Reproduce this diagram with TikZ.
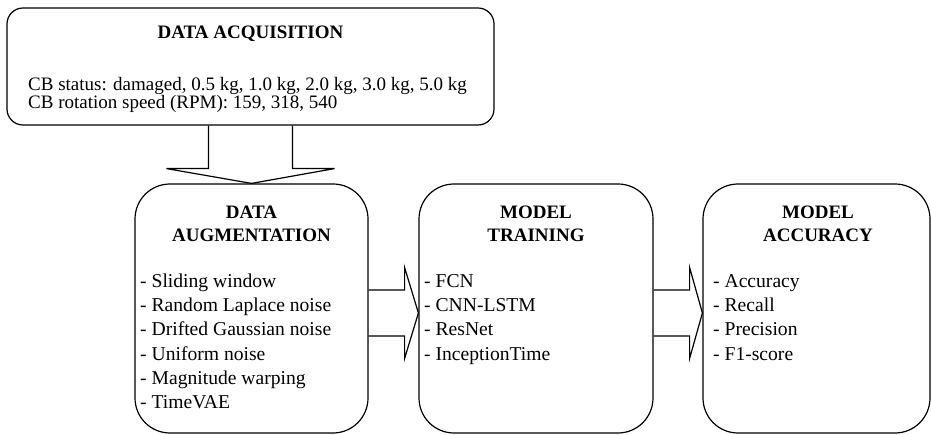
\documentclass[tikz,border=0pt]{standalone}
\usepackage{fontspec}
\setmainfont{Liberation Serif}
\usetikzlibrary{calc}
\begin{document}
\begin{tikzpicture}[x=1pt,y=-1pt,
  box/.style={draw,line width=1.2pt,rounded corners=#1,inner sep=0pt},
  conn/.style={draw,line width=1.2pt,line join=miter},
  ttl/.style={anchor=base,inner sep=0pt,font=\fontsize{19}{23}\selectfont\bfseries},
  txt/.style={anchor=base west,inner sep=0pt,font=\fontsize{19}{23}\selectfont},
  item/.style={anchor=base west,inner sep=0pt,font=\fontsize{19.6}{23}\selectfont}]
\useasboundingbox (0,0) rectangle (931,435);
% boxes
\node[box=16pt,minimum width=487pt,minimum height=117pt] (acq) at (250.5,66.5) {};
\node[box=35pt,minimum width=233pt,minimum height=249pt] (aug) at (251.5,308.5) {};
\node[box=35pt,minimum width=234pt,minimum height=249pt] (tr) at (536,308.5) {};
\node[box=35pt,minimum width=227pt,minimum height=249pt] (acc) at (816.5,308.5) {};
% texts
\node[ttl] (acqT) at (250.5,39) {DATA ACQUISITION};
\node[txt] (acqL1) at (28,91) {CB status: damaged, 0.5 kg, 1.0 kg, 2.0 kg, 3.0 kg, 5.0 kg};
\node[txt] (acqL2) at (28,109) {CB rotation speed (RPM): 159, 318, 540};
\node[ttl] (augT1) at (251.5,219) {DATA};
\node[ttl] (augT2) at (251.5,242) {AUGMENTATION};
\foreach \t [count=\i from 0] in {Sliding window,Random Laplace noise,Drifted Gaussian noise,Uniform noise,Magnitude warping,TimeVAE}
  \node[item] (augL\i) at (140,288+24*\i) {- \t};
\node[ttl] (trT1) at (536,219) {MODEL};
\node[ttl] (trT2) at (536,242) {TRAINING};
\foreach \t [count=\i from 0] in {FCN,CNN-LSTM,ResNet,InceptionTime}
  \node[item] (trL\i) at (424,288+24*\i) {- \t};
\node[ttl] (accT1) at (818,219) {MODEL};
\node[ttl] (accT2) at (818,242) {ACCURACY};
\foreach \t [count=\i from 0] in {Accuracy,Recall,Precision,F1-score}
  \node[item] (accL\i) at (713,288+24*\i) {- \t};
% block arrows
\draw[conn] ($(acq.south)+(-42,0)$) -- ++(0,43) -- ++(-42,0) -- (aug.north)
  -- ($(acq.south)+(84,43)$) -- ++(-42,0) -- ($(acq.south)+(42,0)$);
\draw[conn] ($(aug.east)+(0,-18.5)$) -- ++(36,0) -- ++(0,-22.5) -- ($(tr.west)+(0,4.5)$)
  -- ($(aug.east)+(36,50)$) -- ++(0,-22.5) -- ($(aug.east)+(0,27.5)$);
\draw[conn] ($(tr.east)+(0,-18.5)$) -- ++(36,0) -- ++(0,-22.5) -- ($(acc.west)+(0,4.5)$)
  -- ($(tr.east)+(36,50)$) -- ++(0,-22.5) -- ($(tr.east)+(0,27.5)$);
\end{tikzpicture}
\end{document}
